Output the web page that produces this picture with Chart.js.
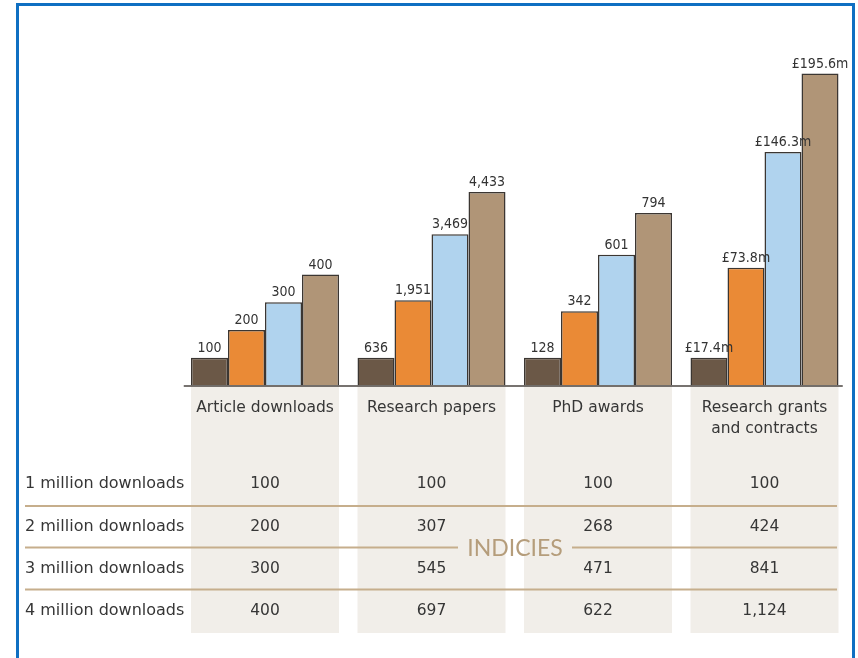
<!DOCTYPE html>
<html>
<head>
<meta charset="utf-8">
<script src="https://cdn.jsdelivr.net/npm/chart.js@4.4.1/dist/chart.umd.min.js"></script>
<style>
  html, body { margin: 0; padding: 0; background: #ffffff; }
  #wrap { position: relative; width: 858px; height: 658px; overflow: hidden; }
  #frame { position: absolute; left: 16px; top: 3px; width: 833px; height: 700px;
           border: 3px solid #0f6fc2; box-sizing: content-box; pointer-events: none; }
  canvas { position: absolute; left: 0; top: 0; }
</style>
</head>
<body>
<div id="wrap">
  <canvas id="c" width="858" height="658"></canvas>
  <div id="frame"></div>
</div>
<script>
// ---- data ----
const categories = [["Article downloads"], ["Research papers"], ["PhD awards"], ["Research grants", "and contracts"]];
const seriesNames = ["1 million downloads", "2 million downloads", "3 million downloads", "4 million downloads"];
const index1m = [100, 100, 100, 100];
const index2m = [200, 307, 268, 424];
const index3m = [300, 545, 471, 841];
const index4m = [400, 697, 622, 1124];
const values1m = ["100", "636", "128", "£17.4m"];
const values2m = ["200", "1,951", "342", "£73.8m"];
const values3m = ["300", "3,469", "601", "£146.3m"];
const values4m = ["400", "4,433", "794", "£195.6m"];
const tableTitle = "INDICIES";

const indexSeries = [index1m, index2m, index3m, index4m];
const valueSeries = [values1m, values2m, values3m, values4m];
const barColors = ["#6b5847", "#ea8a36", "#b0d3ee", "#b09577"];

const FONT = "'DejaVu Sans', sans-serif";
const NARROW = "'DejaVu Sans Condensed', 'Liberation Sans Narrow', 'DejaVu Sans', sans-serif";
const CAT_PCT = 0.889;

const overlay = {
  id: 'overlay',
  beforeDatasetsDraw(chart) {
    const ctx = chart.ctx, xs = chart.scales.x, ca = chart.chartArea;
    const step = (ca.right - ca.left) / categories.length;
    ctx.save();
    ctx.fillStyle = '#f1eee9';
    categories.forEach((c, i) => {
      const cx = xs.getPixelForValue(i);
      const hw = step * CAT_PCT / 2;
      ctx.fillRect(cx - hw, ca.bottom, hw * 2, 633 - ca.bottom);
    });
    ctx.restore();
  },
  afterDatasetsDraw(chart) {
    const ctx = chart.ctx, xs = chart.scales.x, ca = chart.chartArea;
    ctx.save();
    // baseline
    ctx.strokeStyle = '#4a4440';
    ctx.lineWidth = 1.5;
    ctx.beginPath();
    ctx.moveTo(ca.left + 2, ca.bottom + 0.5);
    ctx.lineTo(ca.right - 5, ca.bottom + 0.5);
    ctx.stroke();
    // value labels
    ctx.fillStyle = '#333333';
    ctx.font = "14px " + NARROW;
    ctx.textAlign = 'center';
    ctx.textBaseline = 'alphabetic';
    chart.data.datasets.forEach((ds, di) => {
      const meta = chart.getDatasetMeta(di);
      meta.data.forEach((bar, i) => {
        ctx.fillText(valueSeries[di][i], bar.x, bar.y - 6);
      });
    });
    // category labels
    ctx.font = "15.5px " + FONT;
    ctx.fillStyle = '#363636';
    ctx.textBaseline = 'middle';
    categories.forEach((lines, i) => {
      const cx = xs.getPixelForValue(i);
      lines.forEach((t, li) => ctx.fillText(t, cx, 408 + li * 21));
    });
    // table
    const rowY = [484, 526.5, 569, 611];
    const lineY = [506, 547.5, 589.5];
    ctx.strokeStyle = '#c6ae8c';
    ctx.lineWidth = 2;
    lineY.forEach((y, k) => {
      ctx.beginPath();
      if (k === 1) {
        ctx.moveTo(25, y); ctx.lineTo(458, y);
        ctx.moveTo(572, y); ctx.lineTo(837, y);
      } else {
        ctx.moveTo(25, y); ctx.lineTo(837, y);
      }
      ctx.stroke();
    });
    ctx.fillStyle = '#363636';
    seriesNames.forEach((name, r) => {
      ctx.font = "16px " + FONT;
      ctx.textAlign = 'left';
      ctx.fillText(name, 25, rowY[r]);
      ctx.font = "15.5px " + FONT;
      ctx.textAlign = 'center';
      indexSeries[r].forEach((v, i) => {
        ctx.fillText(v.toLocaleString('en-GB'), xs.getPixelForValue(i), rowY[r]);
      });
    });
    ctx.font = "23px Lato, 'Open Sans', sans-serif";
    ctx.fillStyle = '#b59d7b';
    ctx.textAlign = 'center';
    ctx.fillText(tableTitle, 515, 549);
    ctx.restore();
  }
};

new Chart(document.getElementById('c'), {
  type: 'bar',
  data: {
    labels: categories,
    datasets: indexSeries.map((d, k) => ({
      label: seriesNames[k],
      data: d,
      backgroundColor: barColors[k],
      borderColor: '#3b3632',
      borderWidth: 1.5,
      borderSkipped: 'bottom',
      categoryPercentage: CAT_PCT,
      barPercentage: 1.0
    }))
  },
  options: {
    responsive: false,
    animation: false,
    layout: { padding: { left: 181.75, right: 10.25, top: 52.5, bottom: 272.5 } },
    plugins: { legend: { display: false }, tooltip: { enabled: false } },
    scales: {
      x: { display: false },
      y: { display: false, min: 0, max: 1200 }
    }
  },
  plugins: [overlay]
});
</script>
</body>
</html>
